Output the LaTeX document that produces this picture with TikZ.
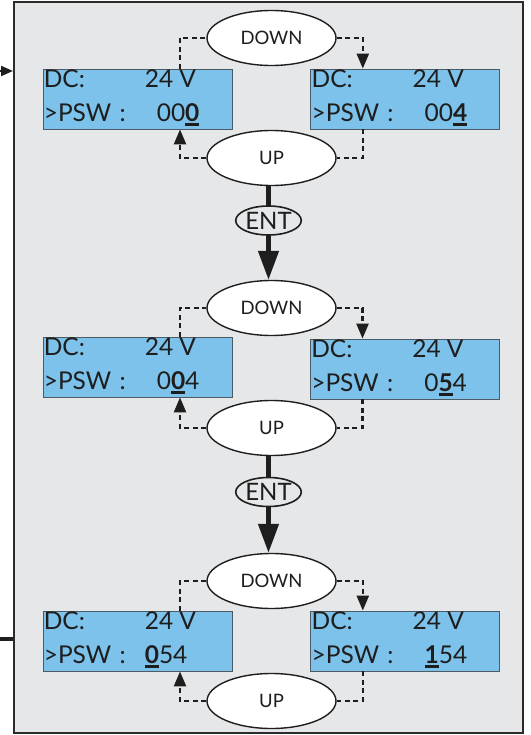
\documentclass[tikz,border=0pt]{standalone}
\usepackage{fontspec}
\setmainfont{Lato}
\usetikzlibrary{arrows.meta,positioning,shapes.geometric}
\definecolor{panelgray}{HTML}{E6E7E9}
\definecolor{panelline}{HTML}{2B2B2B}
\definecolor{lcdblue}{HTML}{7DC2EB}
\definecolor{lcdline}{HTML}{4D5A63}
\definecolor{inkblack}{HTML}{1E1E1E}
\newsavebox{\digbox}
\newcommand{\curdig}[1]{\sbox{\digbox}{\bfseries #1}\rlap{\rule[-4.5pt]{\wd\digbox}{2.8pt}}\usebox{\digbox}}
\newcommand{\lcdlines}[3]{%
  \node[lcdtext] (#1-top) at ([shift={(1,19)}]#1.north west) {\makebox[101pt][l]{DC:}24 V};
  \node[lcdtext] (#1-bot) at ([shift={(1,52.5)}]#1.north west) {\makebox[#2][l]{>PSW\,\,:}#3};
}
\tikzset{
  panel/.style={draw=panelline, line width=2.5pt, fill=panelgray},
  lcdbox/.style={rectangle, draw=lcdline, line width=0.8pt, fill=lcdblue, minimum width=189pt, minimum height=60pt, inner sep=0pt},
  lcdtext/.style={anchor=base west, inner sep=0pt, font=\fontsize{24.5}{24.5}\selectfont, text=inkblack},
  keyoval/.style={ellipse, draw=inkblack, line width=1.4pt, fill=white, minimum width=129pt, minimum height=55pt, inner sep=0pt, font=\fontsize{18.5}{18.5}\selectfont, text=inkblack},
  entoval/.style={ellipse, draw=inkblack, line width=1.6pt, minimum width=57pt, minimum height=29pt, inner sep=0pt, font=\fontsize{24}{24}\selectfont, text=inkblack},
  keyline/.style={dash pattern=on 5pt off 3.5pt, line width=2.4pt, draw=inkblack},
  keyedge/.style={keyline, -{Triangle[length=15pt,width=12pt]}},
  entline/.style={line width=4.5pt, draw=inkblack},
  entedge/.style={entline, -{Triangle[length=29pt,width=20pt]}},
  portedge/.style={line width=2pt, draw=inkblack, -{Triangle[length=12pt,width=10pt]}},
  portline/.style={line width=3.5pt, draw=inkblack}
}
\begin{document}
\begin{tikzpicture}[x=1pt, y=-1pt]
  \useasboundingbox (0,0) rectangle (530,735);
  \draw[panel] (14,2) rectangle (523,733);
  % entry and exit of the menu
  \coordinate (inA) at (0,71);
  \coordinate (inB) at (13,71);
  \coordinate (outA) at (13,639);
  \coordinate (outB) at (0,639);
  \draw[portedge] (inA) -- (inB);
  \draw[portline] (outA) -- (outB);
  % first digit
  \node[lcdbox] (a1) at (137.5,99) {};
  \node[lcdbox, right=78pt of a1] (b1) {};
  \node[keyoval] (dn1) at (271.5,38) {DOWN};
  \node[keyoval] (up1) at (271.5,158) {UP};
  \lcdlines{a1}{113pt}{00\curdig{0}}
  \lcdlines{b1}{113pt}{00\curdig{4}}
  \node[entoval] (ent1) at (268.5,220.5) {ENT};
  % second digit
  \node[lcdbox] (a2) at (137.5,367) {};
  \node[lcdbox] (b2) at (405,369) {};
  \node[keyoval] (dn2) at (271.5,308) {DOWN};
  \node[keyoval] (up2) at (271.5,428) {UP};
  \lcdlines{a2}{113pt}{0\curdig{0}4}
  \lcdlines{b2}{113pt}{0\curdig{5}4}
  \node[entoval] (ent2) at (268.5,492) {ENT};
  % third digit
  \node[lcdbox] (a3) at (137.5,641) {};
  \node[lcdbox, right=78pt of a3] (b3) {};
  \node[keyoval] (dn3) at (271.5,581) {DOWN};
  \node[keyoval] (up3) at (271.5,701) {UP};
  \lcdlines{a3}{101pt}{\curdig{0}54}
  \lcdlines{b3}{113pt}{\curdig{1}54}
  % key loops
  \draw[keyline] ([xshift=42.5pt]a1.north) |- (dn1.west);
  \draw[keyedge] (dn1.east) -| ([xshift=-42.5pt]b1.north);
  \draw[keyline] ([xshift=-42.5pt]b1.south) |- (up1.east);
  \draw[keyedge] (up1.west) -| ([xshift=42.5pt]a1.south);
  \draw[keyline] ([xshift=42.5pt]a2.north) |- (dn2.west);
  \draw[keyedge] (dn2.east) -| ([xshift=-42.5pt]b2.north);
  \draw[keyline] ([xshift=-42.5pt]b2.south) |- (up2.east);
  \draw[keyedge] (up2.west) -| ([xshift=42.5pt]a2.south);
  \draw[keyline] ([xshift=42.5pt]a3.north) |- (dn3.west);
  \draw[keyedge] (dn3.east) -| ([xshift=-42.5pt]b3.north);
  \draw[keyline] ([xshift=-42.5pt]b3.south) |- (up3.east);
  \draw[keyedge] (up3.west) -| ([xshift=42.5pt]a3.south);
  % enter steps
  \draw[entline] (ent1.north) -- (ent1.north |- up1.south);
  \draw[entedge] (ent1.south) -- (ent1.south |- dn2.north);
  \draw[entline] (ent2.north) -- (ent2.north |- up2.south);
  \draw[entedge] (ent2.south) -- (ent2.south |- dn3.north);
\end{tikzpicture}
\end{document}
